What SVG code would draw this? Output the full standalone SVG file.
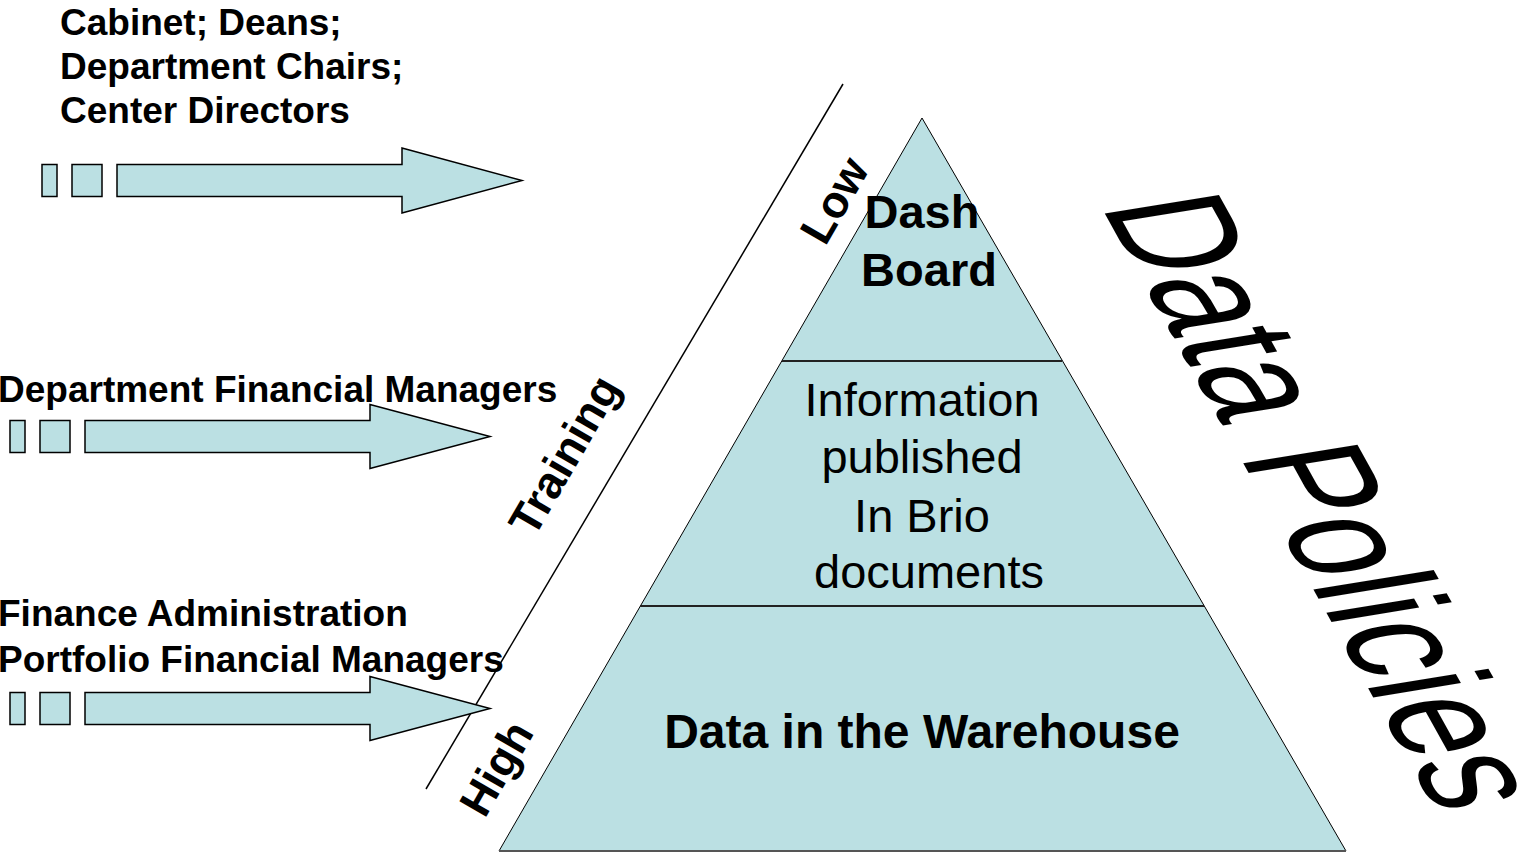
<svg xmlns="http://www.w3.org/2000/svg" width="1522" height="855" viewBox="0 0 1522 855">
<style>
.shape{fill:#BBE0E3;stroke:#000;stroke-width:1.5}
.tri{fill:#BBE0E3;stroke:#000;stroke-width:1}
.div{stroke:#222;stroke-width:2;fill:none}
.b{font-family:"Liberation Sans",Arial,sans-serif;font-weight:bold;fill:#000}
.r{font-family:"Liberation Sans",Arial,sans-serif;fill:#000}
.lbl{font-size:37px}
.pyr{font-size:47px}
.side{font-size:45px}
</style>
<rect width="1522" height="855" fill="#fff"/>
<g id="pyramid">
<polygon class="tri" points="922,118 1346,851 499,851"/>
<line class="div" x1="782" y1="361" x2="1062" y2="361"/>
<line class="div" x1="640" y1="606" x2="1204" y2="606"/>
<line x1="499" y1="851" x2="1346" y2="851" stroke="#555" stroke-width="2"/>
</g>
<g id="tier-top">
<text class="b pyr" x="922" y="228" text-anchor="middle">Dash</text>
<text class="b pyr" x="929" y="286" text-anchor="middle">Board</text>
</g>
<g id="tier-middle">
<text class="r pyr" x="922" y="416" text-anchor="middle">Information</text>
<text class="r pyr" x="922" y="473" text-anchor="middle">published</text>
<text class="r pyr" x="922" y="532" text-anchor="middle">In Brio</text>
<text class="r pyr" x="929" y="588" text-anchor="middle">documents</text>
</g>
<g id="tier-bottom">
<text class="b" font-size="48" x="922" y="748" text-anchor="middle">Data in the Warehouse</text>
</g>
<g id="data-policies">
<text class="r" font-size="100" x="0" y="0" transform="matrix(0.58 1.045 -1.66 0.27 1100 205)">Data Policies</text>
</g>
<g id="training-scale">
<text class="b side" x="0" y="16" text-anchor="middle" transform="translate(834,200) rotate(-60)">Low</text>
<text class="b side" x="0" y="16" text-anchor="middle" transform="translate(564,455) rotate(-60)">Training</text>
<text class="b side" x="0" y="16" text-anchor="middle" transform="translate(496,768) rotate(-60)">High</text>
</g>
<g id="group-executives">
<text class="b lbl" x="60" y="35">Cabinet; Deans;</text>
<text class="b lbl" x="60" y="79">Department Chairs;</text>
<text class="b lbl" x="60" y="123">Center Directors</text>
</g>
<g id="group-dfm">
<text class="b lbl" x="-2" y="402">Department Financial Managers</text>
</g>
<g id="group-fa">
<text class="b lbl" x="-2" y="626">Finance Administration</text>
<text class="b lbl" x="-2" y="672">Portfolio Financial Managers</text>
</g>
<g id="connectors">
<line x1="843" y1="84" x2="426" y2="789" stroke="#000" stroke-width="1.5"/>
<g id="arrow-1">
<rect class="shape" x="42" y="164.5" width="15" height="32"/>
<rect class="shape" x="72" y="164.5" width="30" height="32"/>
<polygon class="shape" points="117,164.5 402,164.5 402,148 522,180.5 402,213 402,196.5 117,196.5"/>
</g>
<g id="arrow-2">
<rect class="shape" x="10" y="420.5" width="15" height="32"/>
<rect class="shape" x="40" y="420.5" width="30" height="32"/>
<polygon class="shape" points="85,420.5 370,420.5 370,404.5 490,436.5 370,468.5 370,452.5 85,452.5"/>
</g>
<g id="arrow-3">
<rect class="shape" x="10" y="692.5" width="15" height="32"/>
<rect class="shape" x="40" y="692.5" width="30" height="32"/>
<polygon class="shape" points="85,692.5 370,692.5 370,676.5 490,708.5 370,740.5 370,724.5 85,724.5"/>
</g>
</g>
</svg>
